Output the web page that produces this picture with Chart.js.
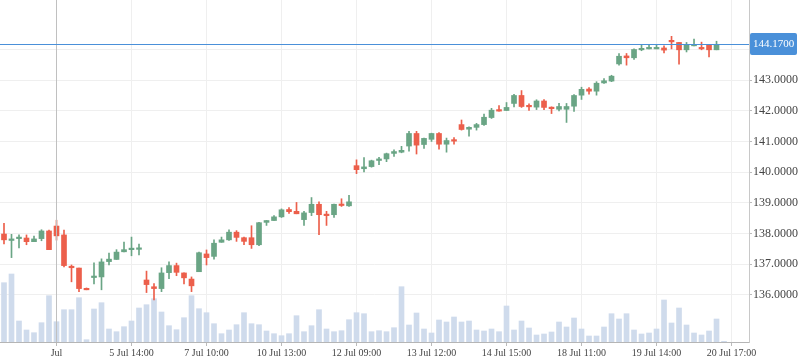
<!DOCTYPE html>
<html><head><meta charset="utf-8">
<script src="https://cdn.jsdelivr.net/npm/chart.js@4.4.0/dist/chart.umd.min.js"></script>
<style>html,body{margin:0;padding:0;background:#fff}#wrap{width:798px;height:363px}</style>
</head><body><div id="wrap"><canvas id="c" width="798" height="363"></canvas></div>
<script>
const opens  = [137.98,137.77,137.83,137.85,137.73,137.83,138.08,138.24,137.95,136.90,136.87,136.18,136.56,136.58,137.08,137.15,137.40,137.47,137.48,136.48,136.26,136.20,136.72,136.95,136.71,136.51,136.75,137.33,137.25,137.71,137.79,138.04,137.86,137.86,137.63,138.36,138.42,138.54,138.78,138.72,138.45,138.68,138.95,138.60,138.61,138.94,138.90,140.21,140.11,140.18,140.38,140.43,140.61,140.65,140.85,141.26,140.90,141.07,141.26,140.91,141.03,141.55,141.40,141.46,141.55,141.78,142.01,142.01,142.24,142.50,142.16,142.12,142.32,142.11,142.05,142.05,142.15,142.51,142.71,142.64,142.91,142.97,143.53,143.79,143.73,143.99,144.02,144.02,144.05,144.30,144.23,143.99,144.12,144.03,144.15,143.99];
const highs  = [138.33,137.97,137.95,137.95,137.91,138.12,138.11,138.43,138.11,136.97,136.87,136.22,137.04,137.17,137.36,137.47,137.72,137.88,137.65,136.77,136.36,136.88,137.07,137.03,136.71,136.58,137.39,137.46,137.79,137.88,138.12,138.09,137.88,138.25,138.36,138.42,138.58,138.80,138.84,139.01,138.72,139.17,139.03,138.72,138.96,139.13,139.24,140.40,140.47,140.39,140.48,140.62,140.73,140.84,141.33,141.33,141.11,141.27,141.29,141.11,141.13,141.70,141.48,141.59,141.89,142.08,142.17,142.27,142.54,142.66,142.23,142.36,142.37,142.13,142.24,142.24,142.53,142.77,142.76,142.95,143.05,143.16,143.87,143.87,144.02,144.16,144.16,144.16,144.12,144.43,144.23,144.23,144.34,144.24,144.15,144.27];
const lows   = [137.66,137.21,137.53,137.63,137.73,137.76,137.47,137.78,136.91,136.42,136.10,136.16,136.35,136.16,136.97,137.15,137.40,137.27,137.30,136.07,135.83,136.10,136.52,136.62,136.35,136.10,136.75,136.97,137.16,137.71,137.77,137.74,137.63,137.51,137.60,138.26,138.42,138.52,138.65,138.64,138.26,138.58,137.96,138.26,138.52,138.88,138.88,139.95,140.01,140.16,140.24,140.34,140.51,140.63,140.68,140.59,140.77,141.00,140.75,140.65,140.91,141.37,141.17,141.37,141.52,141.75,141.99,142.01,142.13,142.11,142.01,142.04,142.04,141.91,142.00,141.62,141.98,142.37,142.54,142.51,142.89,142.95,143.49,143.49,143.68,143.96,144.02,144.02,143.89,144.02,143.52,143.92,144.12,143.99,143.76,143.99];
const closes = [137.79,137.82,137.85,137.73,137.82,138.08,137.47,137.92,136.95,136.88,136.20,136.16,136.58,137.07,137.16,137.39,137.47,137.50,137.50,136.33,136.20,136.71,136.95,136.73,136.55,136.29,137.37,137.21,137.68,137.79,138.04,137.87,137.74,137.63,138.35,138.42,138.54,138.77,138.71,138.64,138.67,138.95,138.61,138.58,138.95,138.91,139.03,140.08,140.17,140.37,140.43,140.60,140.67,140.71,141.26,140.88,141.10,141.26,140.91,141.03,141.01,141.39,141.46,141.55,141.79,142.02,141.99,142.11,142.50,142.14,142.13,142.32,142.11,142.07,142.14,142.14,142.50,142.70,142.64,142.90,142.98,143.13,143.78,143.73,144.00,144.01,144.04,144.04,143.98,144.25,143.99,144.15,144.15,144.02,143.99,144.17];
const volumes = [5930,6800,2100,1200,930,1930,4630,2030,3230,3230,4430,230,3300,3930,1300,1030,1530,2100,3400,3730,4330,3000,1630,1230,2430,4630,3330,2930,1830,830,1200,1730,2930,1830,1730,1100,830,630,830,2630,1030,1630,3230,1300,1030,1130,2230,2930,2830,1030,1130,1030,1430,5530,1700,2900,1300,900,2200,2000,2500,2000,2100,1200,1100,1300,1030,3600,1200,2100,1400,700,800,1000,2000,1500,2400,1300,600,600,1500,2830,2300,2830,1200,800,900,1300,4200,1900,3400,1700,900,700,1100,2300,70];
const tickIndex = [7,17,27,37,47,57,67,77,87,97];
const tickLabels = ['Jul','5 Jul 14:00','7 Jul 10:00','10 Jul 13:00','12 Jul 09:00','13 Jul 12:00','14 Jul 15:00','18 Jul 11:00','19 Jul 14:00','20 Jul 17:00'];
const priceTicks = [136,137,138,139,140,141,142,143,144];
const crossIndex = 7;
const lastPrice = 144.17;

const GREEN = '#6aa585', RED = '#ec5f4b', VOL = '#cfdbec', BLUE = '#4a90d9';
const FONT = '"Liberation Serif", "DejaVu Serif", serif';

const candleColor = opens.map((o,i)=> closes[i] >= o ? GREEN : RED);
const bodyData = opens.map((o,i)=>({x:i, y:[Math.min(o,closes[i]), Math.max(o,closes[i])]}));
const wickData = opens.map((o,i)=>({x:i, y:[lows[i], highs[i]]}));
const volData = volumes.map((v,i)=>({x:i, y:v}));

const overlay = {
  id:'overlay',
  afterDatasetsDraw(chart){
    const {ctx, chartArea:a, scales:{x,y}} = chart;
    ctx.save();
    const cx = Math.round(x.getPixelForValue(crossIndex)) + 0.5;
    ctx.strokeStyle = '#c0c0c0'; ctx.lineWidth = 1;
    ctx.beginPath(); ctx.moveTo(cx, a.top); ctx.lineTo(cx, a.bottom); ctx.stroke();
    const py = Math.round(y.getPixelForValue(lastPrice)) + 0.5;
    ctx.strokeStyle = BLUE; ctx.lineWidth = 1.2;
    ctx.beginPath(); ctx.moveTo(a.left, py); ctx.lineTo(a.right, py); ctx.stroke();
    ctx.restore();
  },
  afterDraw(chart){
    const {ctx, chartArea:a, scales:{y}} = chart;
    const py = Math.round(y.getPixelForValue(lastPrice));
    ctx.save();
    ctx.fillStyle = BLUE;
    const x0 = a.right + 1, w = 797 - x0, h = 22, y0 = py - 11, r = 2;
    ctx.beginPath();
    ctx.moveTo(x0+r,y0); ctx.lineTo(x0+w-r,y0); ctx.quadraticCurveTo(x0+w,y0,x0+w,y0+r);
    ctx.lineTo(x0+w,y0+h-r); ctx.quadraticCurveTo(x0+w,y0+h,x0+w-r,y0+h);
    ctx.lineTo(x0+r,y0+h); ctx.quadraticCurveTo(x0,y0+h,x0,y0+h-r);
    ctx.lineTo(x0,y0+r); ctx.quadraticCurveTo(x0,y0,x0+r,y0); ctx.fill();
    ctx.fillStyle = '#fff'; ctx.font = '11px ' + FONT; ctx.textBaseline = 'middle'; ctx.textAlign = 'center';
    ctx.fillText(lastPrice.toFixed(4), x0 + w/2, py + 0.5);
    ctx.restore();
  }
};

new Chart(document.getElementById('c'), {
  type: 'bar',
  data: { datasets: [
    { label:'body', data: bodyData, yAxisID:'y', backgroundColor: candleColor, barThickness:5, minBarLength:1.5, grouped:false, order:1 },
    { label:'wick', data: wickData, yAxisID:'y', backgroundColor: candleColor, barThickness:1, grouped:false, order:2 },
    { label:'volume', data: volData, yAxisID:'yv', backgroundColor: VOL, barThickness:5, grouped:false, order:3 }
  ]},
  options: {
    responsive:false, animation:false, devicePixelRatio:1,
    layout:{padding:0},
    plugins:{legend:{display:false}, tooltip:{enabled:false}},
    scales:{
      x:{ type:'linear', offset:false, min:-0.533, max:99.33, position:'bottom',
          afterBuildTicks(s){ s.ticks = tickIndex.map(v=>({value:v})); },
          afterFit(s){ s.height = 21; s.paddingLeft = 0; s.paddingRight = 0; },
          ticks:{ autoSkip:false, maxRotation:0, padding:1, color:'#444', font:{family:FONT, size:10},
                  callback:(v,i)=>tickLabels[i] },
          grid:{ color:'#efefef', tickLength:4, tickColor:'#bbb', offset:false },
          border:{ color:'#b5b5b5' } },
      y:{ type:'linear', position:'right', min:134.457, max:145.615,
          afterBuildTicks(s){ s.ticks = priceTicks.map(v=>({value:v})); },
          afterFit(s){ s.width = 49; s.paddingTop = 0; s.paddingBottom = 0; },
          ticks:{ padding:1, color:'#444', font:{family:FONT, size:12},
                  callback:(v)=> v===144 ? '' : Number(v).toFixed(4) },
          grid:{ color:'#efefef', tickLength:3, tickColor:'#bbb' },
          border:{ color:'#c8c8c8' } },
      yv:{ type:'linear', display:false, min:0, max:34200 }
    }
  },
  plugins:[overlay]
});
</script></body></html>
